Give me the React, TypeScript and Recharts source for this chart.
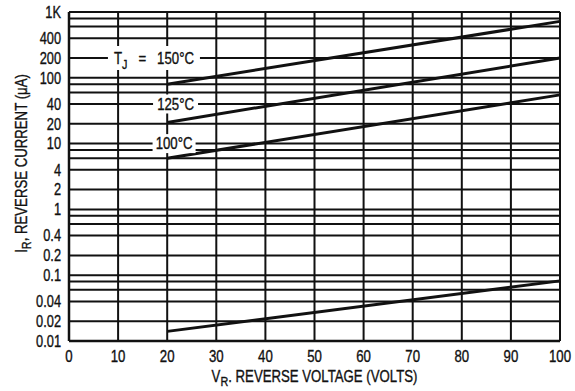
import React from 'react';
import { LineChart, Line, XAxis, YAxis, CartesianGrid, ReferenceDot, ReferenceLine } from 'recharts';

// reverse voltage (V) where each curve starts and ends
const voltage = [20, 100];
// reverse current (uA), one array per junction temperature
const tj150 = [80, 720];
const tj125 = [21, 200];
const tj100 = [6, 55];
const tj25 = [0.014, 0.082];

const xTicks = [0, 10, 20, 30, 40, 50, 60, 70, 80, 90, 100];
const yTicks = [0.01, 0.02, 0.04, 0.1, 0.2, 0.4, 1, 2, 4, 10, 20, 40, 100, 200, 400, 1000];
// horizontal rulings: 1, 2, 4, 6, 8 in every decade
const yGrid = [
  0.01, 0.02, 0.04, 0.06, 0.08,
  0.1, 0.2, 0.4, 0.6, 0.8,
  1, 2, 4, 6, 8,
  10, 20, 40, 60, 80,
  100, 200, 400, 600, 800,
  1000,
];

const data = voltage.map((v, i) => ({
  v,
  tj150: tj150[i],
  tj125: tj125[i],
  tj100: tj100[i],
  tj25: tj25[i],
}));

// Helvetica-like face squeezed to look like the narrow datasheet type
const FONT = "'Liberation Sans', Arial, sans-serif";
const SQUEEZE = 0.8;
const INK = '#111';

const fmtY = (v: number) => (v === 1000 ? '1K' : String(v));

const txt = { fill: INK, fontFamily: FONT, stroke: INK, strokeWidth: 0.35 };

const YTick = ({ x, y, payload }: any) => (
  <text transform={`translate(${x},${y}) scale(${SQUEEZE},1)`} textAnchor="end" dy="0.36em" fontSize={16} {...txt}>
    {fmtY(payload.value)}
  </text>
);

const XTick = ({ x, y, payload }: any) => (
  <text transform={`translate(${x},${y + 12.7}) scale(${SQUEEZE},1)`} textAnchor="middle" fontSize={16.5} {...txt}>
    {payload.value}
  </text>
);

const XTitle = ({ viewBox }: any) => {
  const { x, y, width } = viewBox;
  return (
    <text
      transform={`translate(${x + width / 2},${y + 40.5}) scale(${SQUEEZE},1)`}
      textAnchor="middle"
      fontSize={16.5}
      {...txt}
    >
      V<tspan dy={4} fontSize={13.5}>R</tspan>
      <tspan dy={-4}>. REVERSE VOLTAGE (VOLTS)</tspan>
    </text>
  );
};

const YTitle = ({ viewBox }: any) => {
  const cx = viewBox.x + 26.5;
  const cy = viewBox.y + viewBox.height / 2 - 13;
  return (
    <text
      transform={`translate(${cx},${cy}) rotate(-90) scale(${SQUEEZE},1)`}
      textAnchor="middle"
      fontSize={16.5}
      {...txt}
    >
      I<tspan dy={4} fontSize={13.5}>R</tspan>
      <tspan dy={-4}>, REVERSE CURRENT (μA)</tspan>
    </text>
  );
};

// white box that breaks the ruling, with the temperature text on top
const tag = (content: React.ReactNode, w: number, h: number) => (props: any) => {
  const { cx, cy } = props;
  return (
    <g>
      <rect x={cx - w / 2} y={cy - h / 2} width={w} height={h} fill="#fff" />
      <text
        transform={`translate(${cx},${cy + 5.8}) scale(${SQUEEZE},1)`}
        textAnchor="middle"
        fontSize={16.5}
        {...txt}
      >
        {content}
      </text>
    </g>
  );
};

const tag150 = tag(
  <>
    T<tspan dy={5} fontSize={13.5}>J</tspan>
    <tspan dy={-5}>{'\u00a0\u00a0\u00a0=\u00a0\u00a0\u00a0150°C'}</tspan>
  </>,
  92,
  24
);
const tag125 = tag('125°C', 45, 19);
const tag100 = tag('100°C', 43, 19);

export default function App() {
  return (
    <div style={{ position: 'absolute', left: 0, top: 0, width: 575, height: 391, background: '#fff' }}>
      <LineChart
        width={575}
        height={391}
        data={data}
        margin={{ top: 12, right: 15, bottom: 0, left: 0 }}
        style={{ fontFamily: FONT }}
      >
        <CartesianGrid
          horizontalValues={yGrid}
          verticalValues={xTicks}
          stroke={INK}
          strokeWidth={2}
          strokeDasharray=""
        />
        <XAxis
          dataKey="v"
          type="number"
          domain={[0, 100]}
          ticks={xTicks}
          height={50}
          tickLine={false}
          axisLine={{ stroke: INK, strokeWidth: 2.5 }}
          tick={<XTick />}
          interval={0}
          label={<XTitle />}
        />
        <YAxis
          scale="log"
          type="number"
          domain={[0.01, 1000]}
          allowDataOverflow
          ticks={yTicks}
          width={69}
          tickLine={false}
          axisLine={{ stroke: INK, strokeWidth: 2.5 }}
          tick={<YTick />}
          interval={0}
          label={<YTitle />}
        />
        <ReferenceLine y={1000} stroke={INK} strokeWidth={2} />
        <ReferenceLine x={100} stroke={INK} strokeWidth={2} />
        <Line dataKey="tj150" type="linear" stroke={INK} strokeWidth={3} dot={false} isAnimationActive={false} />
        <Line dataKey="tj125" type="linear" stroke={INK} strokeWidth={3} dot={false} isAnimationActive={false} />
        <Line dataKey="tj100" type="linear" stroke={INK} strokeWidth={3} dot={false} isAnimationActive={false} />
        <Line dataKey="tj25" type="linear" stroke={INK} strokeWidth={3} dot={false} isAnimationActive={false} />
        <ReferenceDot x={17.3} y={200} r={0} shape={tag150} />
        <ReferenceDot x={21.7} y={40} r={0} shape={tag125} />
        <ReferenceDot x={21.4} y={10} r={0} shape={tag100} />
      </LineChart>
    </div>
  );
}
